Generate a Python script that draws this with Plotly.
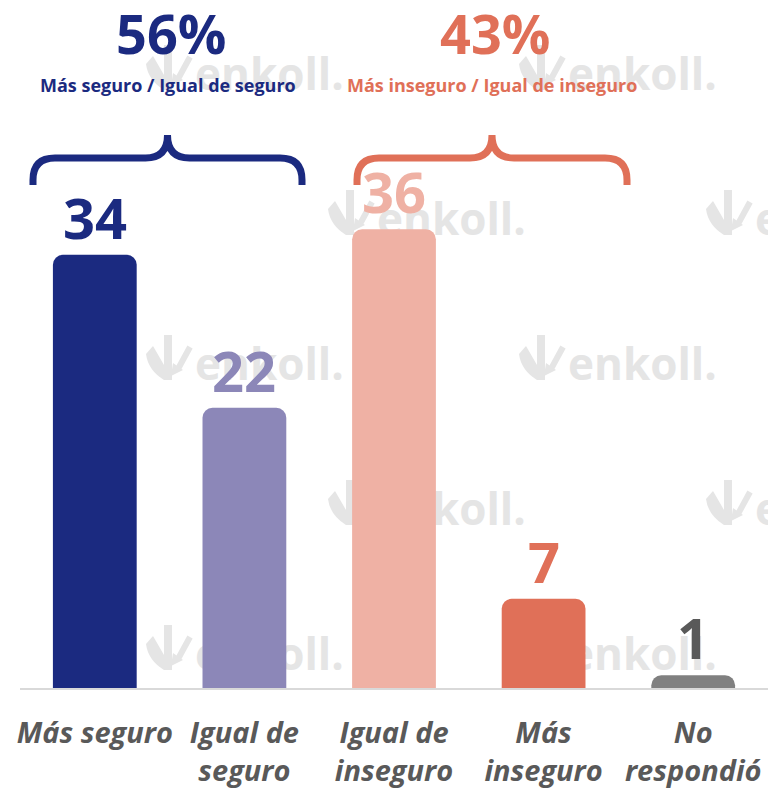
import plotly.graph_objects as go

# ---------------- data ----------------
categories = ["Más seguro", "Igual de<br>seguro", "Igual de<br>inseguro", "Más<br>inseguro", "No<br>respondió"]
values = [34, 22, 36, 7, 1]
bar_colors = ["#1b2a80", "#8c87b8", "#efb1a4", "#e07058", "#808080"]
label_colors = ["#1b2a80", "#8c87b8", "#efb1a4", "#e07058", "#595959"]

group_titles = ["Más seguro / Igual de seguro", "Más inseguro / Igual de inseguro"]
group_members = [[0, 1], [2, 3]]
group_colors = ["#1b2a80", "#e07058"]

# watermark grid (pixel coords: text left, baseline)
wm_left = [195, 568, 15, 377, 755, 195, 568, 15, 377, 755, 195, 568, 15, 377, 755]
wm_base = [92, 92, 237, 237, 237, 382, 382, 527, 527, 527, 672, 672, 817, 817, 817]

FONT = "Open Sans"
W, H = 768, 788
ML, MB = 20, 100
PX_LEFT, PX_RIGHT = ML, W
PX_TOP, PX_BOTTOM = 0, H - MB
UNIT_PX = 12.74      # bar scale (px per unit)
SLOT_PX = 149.6      # category spacing in px
X0_PX = 94.8         # centre of first category
WM_COLOR = "#e5e5e5"

fig = go.Figure()

# watermark text (base axes in pixel coordinates, drawn under the bars)
fig.add_trace(go.Scatter(
    x=wm_left, y=[b - 13 for b in wm_base], mode="text", text=["enkoll."] * len(wm_left),
    textposition="middle right", cliponaxis=False, hoverinfo="skip", showlegend=False,
    textfont=dict(family=FONT, size=44, color=WM_COLOR, weight="bold"),
    xaxis="x", yaxis="y"))

shapes = []
# watermark logos
for L, B in zip(wm_left, wm_base):
    def p(dx, dy):
        return f"{L + dx},{B + dy}"
    logo = (f"M {p(-49,-28)} L {p(-42,-36)} L {p(-31,-17)} L {p(-31,-47)} L {p(-23,-47)} "
            f"L {p(-23,-2)} L {p(-31,-2)} Q {p(-47,-12)} {p(-49,-28)} Z")
    arrow_head = f"M {p(-24,-6)} L {p(-22,-19)} L {p(-12,-12)} Z"
    shapes.append(dict(type="path", path=logo, xref="x", yref="y", layer="below",
                       fillcolor=WM_COLOR, line=dict(width=0)))
    shapes.append(dict(type="path", path=arrow_head, xref="x", yref="y", layer="below",
                       fillcolor=WM_COLOR, line=dict(width=0)))
    shapes.append(dict(type="path", path=f"M {p(-5,-35)} L {p(-17,-13)}", xref="x", yref="y",
                       layer="below", line=dict(color=WM_COLOR, width=6)))

# bars (overlay axes, drawn above the watermark)
fig.add_trace(go.Bar(
    x=list(range(len(values))), y=values, marker=dict(color=bar_colors, line=dict(width=0)),
    width=0.56, hoverinfo="skip", showlegend=False, xaxis="x2", yaxis="y2"))

annotations = []
for i, v in enumerate(values):
    annotations.append(dict(x=i, y=v, xref="x2", yref="y2", text=str(v), showarrow=False,
                            yanchor="bottom", yshift=-2,
                            font=dict(family=FONT, size=56, color=label_colors[i], weight="bold")))

# group headers and braces
brace_ends = [(33, 302), (357, 627)]
for g, (members, title, col) in enumerate(zip(group_members, group_titles, group_colors)):
    total = sum(values[m] for m in members)
    x0, x1 = brace_ends[g]
    cx = (x0 + x1) / 2
    annotations.append(dict(x=cx + 3, y=33, xref="x", yref="y", text=f"{total}%", showarrow=False,
                            yanchor="middle", font=dict(family=FONT, size=54, color=col, weight="bold")))
    annotations.append(dict(x=cx, y=85, xref="x", yref="y", text=title, showarrow=False,
                            yanchor="middle", font=dict(family=FONT, size=18, color=col, weight="bold")))
    r, hy, ty, by = 22, 158, 135, 185
    path = (f"M {x0},{by} L {x0},{hy + r} Q {x0},{hy} {x0 + r},{hy} "
            f"L {cx - 22},{hy} Q {cx},{hy} {cx},{ty} Q {cx},{hy} {cx + 22},{hy} "
            f"L {x1 - r},{hy} Q {x1},{hy} {x1},{hy + r} L {x1},{by}")
    shapes.append(dict(type="path", path=path, xref="x", yref="y", layer="above",
                       line=dict(color=col, width=7)))

x2_range = [(PX_LEFT - X0_PX) / SLOT_PX, (PX_RIGHT - X0_PX) / SLOT_PX]
y2_top = (PX_BOTTOM - PX_TOP) / UNIT_PX

fig.update_layout(
    width=W, height=H, margin=dict(l=ML, r=0, t=0, b=MB),
    paper_bgcolor="white", plot_bgcolor="white",
    barcornerradius=10,
    xaxis=dict(range=[PX_LEFT, PX_RIGHT], visible=False, fixedrange=True),
    yaxis=dict(range=[PX_BOTTOM, PX_TOP], visible=False, fixedrange=True),
    xaxis2=dict(overlaying="x", anchor="y2", range=x2_range, showgrid=False, zeroline=False,
                showline=True, linecolor="#d9d9d9", linewidth=2, ticks="",
                tickvals=list(range(len(categories))), ticktext=categories, ticklabelstandoff=18,
                ticklabeloverflow="allow", fixedrange=True,
                tickfont=dict(family=FONT, size=29, color="#595959", weight="bold", style="italic")),
    yaxis2=dict(overlaying="y", range=[0, y2_top], visible=False, fixedrange=True),
    shapes=shapes, annotations=annotations,
)

fig.write_html(
    "out.html",
    config={"displayModeBar": False},
    post_script=("document.body.style.margin='0';document.body.style.overflow='hidden';"
                 "document.documentElement.style.overflow='hidden';"),
)
